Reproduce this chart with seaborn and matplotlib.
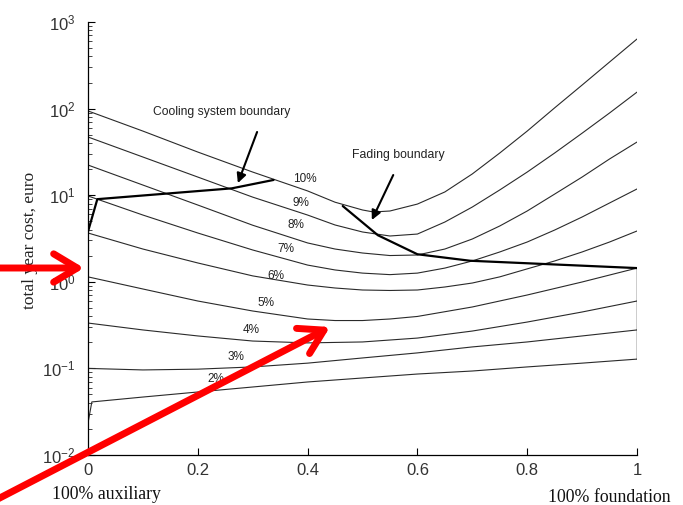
import matplotlib
matplotlib.use("Agg")
import matplotlib.pyplot as plt
import numpy as np
import pandas as pd
import seaborn as sns
from matplotlib.patches import FancyArrowPatch

# ---------------- data ----------------
share_fine = [0.0, 0.1, 0.2, 0.3, 0.4, 0.45, 0.5, 0.55, 0.6, 0.65, 0.7,
              0.75, 0.8, 0.85, 0.9, 0.95, 1.0]

share_10 = [0.0, 0.1, 0.2, 0.3, 0.4, 0.45, 0.5, 0.52, 0.55, 0.6, 0.65, 0.7,
            0.75, 0.8, 0.85, 0.9, 0.95, 1.0]
cost_10 = [94, 55, 31.5, 18.5, 11.2, 8.3, 6.75, 6.4, 6.57, 7.9, 10.9, 17.6,
           30.7, 55, 102, 187, 345, 636]

cost_9 = [47, 27.6, 16.2, 9.5, 5.9, 4.53, 3.76, 3.38, 3.56, 4.9, 7.3, 11.5,
          18.5, 30.7, 52, 89, 155]
cost_8 = [22.3, 13.1, 7.7, 4.5, 2.81, 2.39, 2.15, 2.01, 2.04, 2.39, 3.12,
          4.41, 6.57, 10.3, 16.2, 26.2, 41.1]
cost_7 = [9.8, 5.9, 3.66, 2.33, 1.56, 1.37, 1.26, 1.21, 1.26, 1.44, 1.74,
          2.21, 2.88, 3.96, 5.6, 8.13, 11.8]
cost_6 = [3.66, 2.39, 1.65, 1.17, 0.918, 0.848, 0.804, 0.794, 0.804, 0.871,
          0.968, 1.14, 1.41, 1.74, 2.21, 2.88, 3.86]

share_std = [0.0, 0.1, 0.2, 0.3, 0.4, 0.5, 0.6, 0.7, 0.8, 0.9, 1.0]
share_5 = [0.0, 0.1, 0.2, 0.3, 0.4, 0.45, 0.5, 0.55, 0.6, 0.7, 0.8, 0.9, 1.0]
cost_5 = [1.14, 0.826, 0.60, 0.46, 0.372, 0.357, 0.357, 0.372, 0.398, 0.512,
          0.704, 0.995, 1.44]
cost_4 = [0.334, 0.278, 0.237, 0.207, 0.197, 0.202, 0.224, 0.270, 0.343,
          0.448, 0.60]
cost_3 = [0.1, 0.096, 0.098, 0.104, 0.115, 0.132, 0.151, 0.177, 0.202,
          0.237, 0.278]

share_2 = [0.0, 0.007, 0.1, 0.2, 0.3, 0.4, 0.5, 0.6, 0.7, 0.8, 0.9, 1.0]
cost_2 = [0.0234, 0.041, 0.0467, 0.0534, 0.061, 0.0697, 0.0775, 0.0861,
          0.0933, 0.104, 0.115, 0.128]

rate_labels = ["10%", "9%", "8%", "7%", "6%", "5%", "4%", "3%", "2%"]
label_share = [0.395, 0.388, 0.379, 0.361, 0.342, 0.324, 0.297, 0.270, 0.233]
label_cost = [15.4, 8.13, 4.53, 2.39, 1.17, 0.569, 0.278, 0.135, 0.0755]

cooling_share = [0.0, 0.017, 0.262, 0.338]
cooling_cost = [3.8, 9.0, 12.0, 15.0]

fading_share = [0.464, 0.528, 0.6, 0.696, 1.0]
fading_cost = [7.5, 3.45, 2.08, 1.75, 1.44]

closing_share = [1.0, 1.0]
closing_cost = [1.44, 0.128]

x_ticks = [0, 0.2, 0.4, 0.6, 0.8, 1]
x_tick_labels = ["0", "0.2", "0.4", "0.6", "0.8", "1"]

# ---------------- long table ----------------
series = [
    ("10%", share_10, cost_10), ("9%", share_fine, cost_9),
    ("8%", share_fine, cost_8), ("7%", share_fine, cost_7),
    ("6%", share_fine, cost_6), ("5%", share_5, cost_5),
    ("4%", share_std, cost_4), ("3%", share_std, cost_3),
    ("2%", share_2, cost_2),
]
rows = []
for name, xs, ys in series:
    for xv, yv in zip(xs, ys):
        rows.append({"rate": name, "share": xv, "cost": yv})
df = pd.DataFrame(rows)

# ---------------- style ----------------
sns.set_style("ticks")
plt.rcParams["font.family"] = ["Liberation Sans", "DejaVu Sans"]
plt.rcParams["mathtext.default"] = "regular"
plt.rcParams["lines.solid_joinstyle"] = "round"

W, H = 683, 505
fig = plt.figure(figsize=(W / 100, H / 100), dpi=100)
fig.patch.set_facecolor("white")
ax = fig.add_axes([88 / W, 1 - 455 / H, (637 - 88) / W, (455 - 22) / H])
ax.set_facecolor("white")

sns.lineplot(data=df, x="share", y="cost", units="rate", estimator=None,
             sort=False, color="#2a2a2a", linewidth=0.8, ax=ax, legend=False)

sns.lineplot(x=cooling_share, y=cooling_cost, sort=False, estimator=None,
             color="black", linewidth=1.6, ax=ax)
sns.lineplot(x=fading_share, y=fading_cost, sort=False, estimator=None,
             color="black", linewidth=1.6, ax=ax)
sns.lineplot(x=closing_share, y=closing_cost, sort=False, estimator=None,
             color="black", linewidth=1.0, ax=ax)

ax.set_yscale("log")
ax.set_xlim(0, 1)
ax.set_ylim(1e-2, 1e3)
ax.set_xlabel("")
ax.set_ylabel("")
ax.set_xticks(x_ticks)
ax.set_xticklabels(x_tick_labels)
ax.yaxis.set_major_locator(matplotlib.ticker.LogLocator(base=10, numticks=10))
ax.yaxis.set_minor_locator(matplotlib.ticker.LogLocator(base=10, subs=np.arange(2, 10), numticks=20))
ax.yaxis.set_minor_formatter(matplotlib.ticker.NullFormatter())

for s in ["top", "right"]:
    ax.spines[s].set_visible(False)
for s in ["left", "bottom"]:
    ax.spines[s].set_linewidth(0.9)
    ax.spines[s].set_color("black")

ax.tick_params(axis="both", which="major", direction="in", length=5, width=0.8,
               labelsize=12, colors="black", pad=6)
ax.tick_params(axis="y", which="minor", direction="in", length=3, width=0.6)
ax.tick_params(axis="y", which="major", pad=9)
for lab in ax.get_xticklabels() + ax.get_yticklabels():
    lab.set_color("#333333")

# percentage labels
for t, xv, yv in zip(rate_labels, label_share, label_cost):
    ax.text(xv, yv, t, ha="center", va="center", fontsize=8.5, color="#222222")

# annotations
ax.text(0.244, 91.4, "Cooling system boundary", ha="center", va="center",
        fontsize=8.7, color="#222222")
ax.text(0.566, 29.1, "Fading boundary", ha="center", va="center",
        fontsize=8.8, color="#222222")
ax.annotate("", xy=(0.273, 13.8), xytext=(0.308, 53.7),
            arrowprops=dict(arrowstyle="-|>", color="black", lw=1.5,
                            mutation_scale=14, shrinkA=0, shrinkB=0))
ax.annotate("", xy=(0.517, 5.17), xytext=(0.556, 17.1),
            arrowprops=dict(arrowstyle="-|>", color="black", lw=1.5,
                            mutation_scale=14, shrinkA=0, shrinkB=0))

# axis texts
fig.text(30 / W, 1 - 240 / H, "total year cost, euro", rotation=90,
         ha="center", va="center", fontsize=12.5, family="Liberation Serif",
         color="#222222")
fig.text(106 / W, 1 - 499 / H, "100% auxiliary", ha="center", va="baseline",
         fontsize=12.8, family="Liberation Serif", color="#111111")
fig.text(609 / W, 1 - 502 / H, "100% foundation", ha="center", va="baseline",
         fontsize=12.8, family="Liberation Serif", color="#111111")

# red overlay arrows
def red_arrow(x0, y0, x1, y1):
    p = FancyArrowPatch((x0 / W, 1 - y0 / H), (x1 / W, 1 - y1 / H),
                        transform=fig.transFigure,
                        arrowstyle="->,head_length=1.0,head_width=0.6",
                        mutation_scale=17, color="#ff0000", lw=5,
                        shrinkA=0, shrinkB=0, zorder=20)
    fig.add_artist(p)

red_arrow(-5, 268, 84, 268)
red_arrow(-8, 502, 330, 327)

fig.savefig("out.png", dpi=100, facecolor="white")
